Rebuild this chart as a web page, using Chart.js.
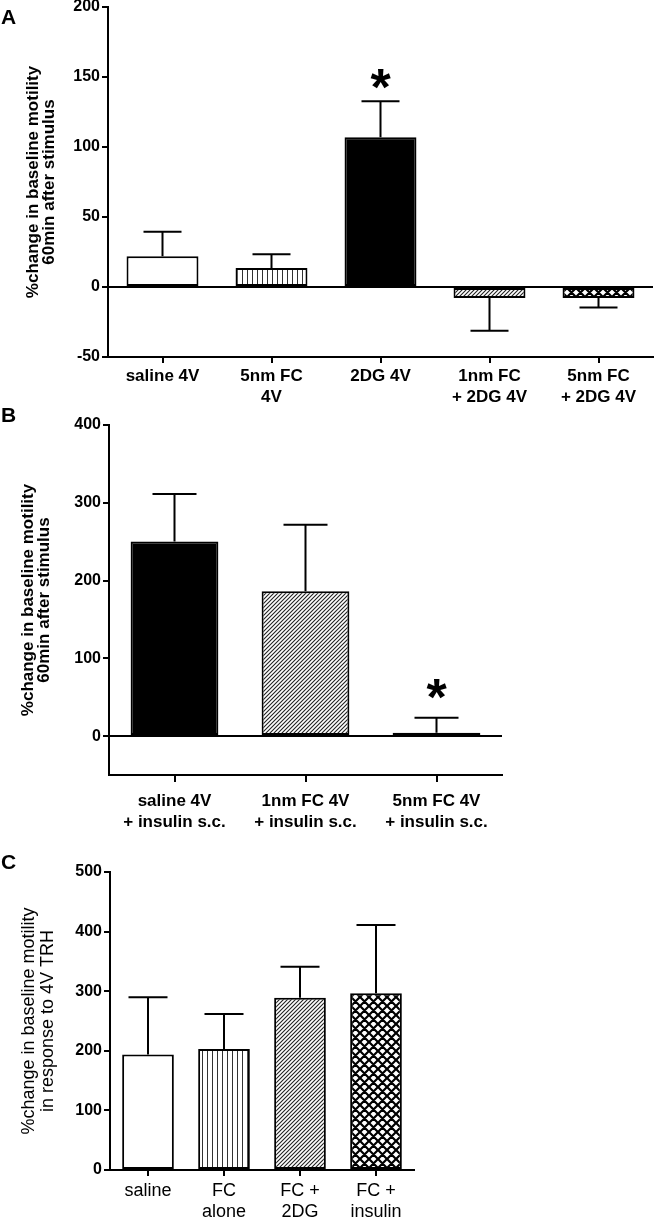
<!DOCTYPE html>
<html>
<head>
<meta charset="utf-8">
<script src="https://cdn.jsdelivr.net/npm/chart.js@4.4.1/dist/chart.umd.min.js"></script>
<style>
  html, body { margin: 0; padding: 0; background: #fff; }
  body { width: 655px; height: 1221px; position: relative; overflow: hidden; }
  canvas { position: absolute; left: 0; }
</style>
</head>
<body>
<canvas id="cA" width="655" height="415" style="top:0px"></canvas>
<canvas id="cB" width="655" height="440" style="top:395px"></canvas>
<canvas id="cC" width="655" height="386" style="top:835px"></canvas>
<script>
// ---------------- DATA ----------------
const categoriesA = [['saline 4V'], ['5nm FC', '4V'], ['2DG 4V'], ['1nm FC', '+ 2DG 4V'], ['5nm FC', '+ 2DG 4V']];
const meansA = [22, 13.6, 107, -7.9, -7.9];
const errEndA = [39.4, 23.4, 132.7, -31.3, -14.6];
const sigA = ['', '', '*', '', ''];
const ticksA = [-50, 0, 50, 100, 150, 200];

const categoriesB = [['saline 4V', '+ insulin s.c.'], ['1nm FC 4V', '+ insulin s.c.'], ['5nm FC 4V', '+ insulin s.c.']];
const meansB = [250.3, 186.2, 4.3];
const errEndB = [311.4, 271.8, 23.7];
const sigB = ['', '', '*'];
const ticksB = [0, 100, 200, 300, 400];

const categoriesC = [['saline'], ['FC', 'alone'], ['FC +', '2DG'], ['FC +', 'insulin']];
const meansC = [194, 203, 289, 296.5];
const errEndC = [289.8, 261.8, 341, 411];
const sigC = ['', '', '', ''];
const ticksC = [0, 100, 200, 300, 400, 500];

const titleAB = ['%change in baseline motility', '60min after stimulus'];
const titleC = ['%change in baseline motility', 'in response to 4V TRH'];

// ---------------- PATTERNS ----------------
function tile(w, h, draw) {
  const c = document.createElement('canvas');
  c.width = w; c.height = h;
  const g = c.getContext('2d');
  g.fillStyle = '#fff'; g.fillRect(0, 0, w, h);
  g.strokeStyle = '#000'; g.fillStyle = '#000';
  draw(g, w, h);
  return document.createElement('canvas').getContext('2d').createPattern(c, 'repeat');
}
const patVert = tile(5, 5, (g) => { g.strokeStyle = '#333'; g.lineWidth = 1; g.beginPath(); g.moveTo(2.5, 0); g.lineTo(2.5, 5); g.stroke(); });
const patVertWide = tile(8, 8, (g) => { g.lineWidth = 1.5; g.beginPath(); g.moveTo(4, 0); g.lineTo(4, 8); g.stroke(); });
const patDiag = tile(4, 4, (g) => {
  g.strokeStyle = '#222'; g.lineWidth = 1.1;
  g.beginPath();
  g.moveTo(-1, 5); g.lineTo(5, -1);
  g.moveTo(-1, 1); g.lineTo(1, -1);
  g.moveTo(3, 5); g.lineTo(5, 3);
  g.stroke();
});
const patCross = tile(9, 9, (g) => {
  g.lineWidth = 2.2;
  g.beginPath();
  g.moveTo(0, 0); g.lineTo(9, 9);
  g.moveTo(9, 0); g.lineTo(0, 9);
  g.moveTo(-1, 8); g.lineTo(1, 10); g.moveTo(8, -1); g.lineTo(10, 1);
  g.moveTo(-1, 1); g.lineTo(1, -1); g.moveTo(8, 10); g.lineTo(10, 8);
  g.stroke();
});

const fillsA = ['#fff', patVert, '#000', patDiag, patCross];
const fillsB = ['#000', patDiag, patVertWide];
const fillsC = ['#fff', patVert, patDiag, patCross];

const FONT = "'Liberation Sans', Arial, Helvetica, sans-serif";

// ---------------- PLUGIN: error bars, stars, letters ----------------
const extras = {
  id: 'extras',
  afterDatasetsDraw(chart, args, o) {
    const ctx = chart.ctx;
    const meta = chart.getDatasetMeta(0);
    const ys = chart.scales.y;
    ctx.save();
    ctx.strokeStyle = '#000';
    ctx.lineWidth = 2;
    ctx.lineCap = 'butt';
    meta.data.forEach((bar, i) => {
      const y0 = ys.getPixelForValue(o.means[i]);
      const y1 = ys.getPixelForValue(o.errEnd[i]);
      ctx.beginPath();
      ctx.moveTo(bar.x, y0);
      ctx.lineTo(bar.x, y1);
      ctx.moveTo(bar.x - o.cap / 2, y1);
      ctx.lineTo(bar.x + o.cap / 2, y1);
      ctx.stroke();
      if (o.sig[i]) {
        ctx.fillStyle = '#000';
        ctx.font = 'bold 52px ' + FONT;
        ctx.textAlign = 'center';
        ctx.textBaseline = 'alphabetic';
        ctx.fillText(o.sig[i], bar.x, y1 - o.starGap + 29);
      }
    });
    ctx.fillStyle = '#000';
    ctx.font = 'bold 21px ' + FONT;
    ctx.textAlign = 'left';
    ctx.textBaseline = 'alphabetic';
    ctx.fillText(o.letter, o.letterX, o.letterY);
    ctx.restore();
  }
};

function makePanel(id, p) {
  const ctx = document.getElementById(id);
  return new Chart(ctx, {
    type: 'bar',
    data: {
      labels: p.labels,
      datasets: [{
        data: p.means,
        backgroundColor: p.fills,
        borderColor: '#000',
        borderWidth: 2,
        borderSkipped: false,
        categoryPercentage: 1,
        barPercentage: p.barPct
      }]
    },
    plugins: [extras],
    options: {
      responsive: false,
      animation: false,
      devicePixelRatio: 1,
      layout: { padding: { left: 0, top: p.padTop, right: p.padRight, bottom: 0 } },
      plugins: {
        legend: { display: false },
        tooltip: { enabled: false },
        extras: { means: p.means, errEnd: p.errEnd, sig: p.sig, cap: p.cap, starGap: p.starGap,
                  letter: p.letter, letterX: 1, letterY: p.letterY }
      },
      scales: {
        x: {
          grid: { display: true, drawOnChartArea: false, offset: false, tickLength: p.xTickLen, color: '#000', lineWidth: 2 },
          border: { display: true, color: '#000', width: 2 },
          ticks: { color: '#000', padding: p.xPad, maxRotation: 0, autoSkip: false,
                   font: { family: FONT, size: p.xFontSize, weight: p.xWeight, lineHeight: '21px' } },
          afterFit(s) { s.height = p.xHeight; s.paddingLeft = 0; s.paddingRight = 0; }
        },
        y: {
          min: p.min, max: p.max,
          afterBuildTicks(s) { s.ticks = p.ticks.map(v => ({ value: v })); },
          grid: {
            drawOnChartArea: true,
            drawTicks: true,
            tickLength: 6,
            lineWidth: 2,
            color: (c) => (c.tick && c.tick.value === 0 && p.zeroLine) ? '#000' : 'rgba(0,0,0,0)',
            tickColor: '#000'
          },
          border: { display: true, color: '#000', width: 2 },
          ticks: { color: '#000', padding: 2, font: { family: FONT, size: 16, weight: 'bold' } },
          title: {
            display: true, text: p.title, color: '#000',
            padding: { top: p.titlePad, bottom: 0 },
            font: { family: FONT, size: p.titleSize, weight: p.titleWeight, lineHeight: p.titleLH }
          },
          afterFit(s) { s.width = p.yWidth; s.paddingTop = 0; s.paddingBottom = 0; }
        }
      }
    }
  });
}

makePanel('cA', {
  labels: categoriesA, means: meansA, errEnd: errEndA, sig: sigA, fills: fillsA,
  ticks: ticksA, min: -50, max: 200, barPct: 0.66, cap: 38, starGap: 25,
  letter: 'A', letterY: 24, padTop: 7, padRight: 2, xHeight: 58, xTickLen: 6, xPad: 3,
  xFontSize: 17, xWeight: 'bold', yWidth: 108, zeroLine: true,
  title: titleAB, titleSize: 17, titleWeight: 'bold', titleLH: '16px', titlePad: 25
});
makePanel('cB', {
  labels: categoriesB, means: meansB, errEnd: errEndB, sig: sigB, fills: fillsB,
  ticks: ticksB, min: -50, max: 400, barPct: 0.67, cap: 44, starGap: 32,
  letter: 'B', letterY: 27, padTop: 30, padRight: 153, xHeight: 60, xTickLen: 7, xPad: 9,
  xFontSize: 17, xWeight: 'bold', yWidth: 109, zeroLine: true,
  title: titleAB, titleSize: 17, titleWeight: 'bold', titleLH: '16px', titlePad: 20
});
makePanel('cC', {
  labels: categoriesC, means: meansC, errEnd: errEndC, sig: sigC, fills: fillsC,
  ticks: ticksC, min: 0, max: 500, barPct: 0.68, cap: 39, starGap: 25,
  letter: 'C', letterY: 34, padTop: 37, padRight: 241, xHeight: 51, xTickLen: 6, xPad: 5,
  xFontSize: 18, xWeight: 'normal', yWidth: 110, zeroLine: false,
  title: titleC, titleSize: 18, titleWeight: 'normal', titleLH: '19px', titlePad: 20
});
</script>
</body>
</html>
